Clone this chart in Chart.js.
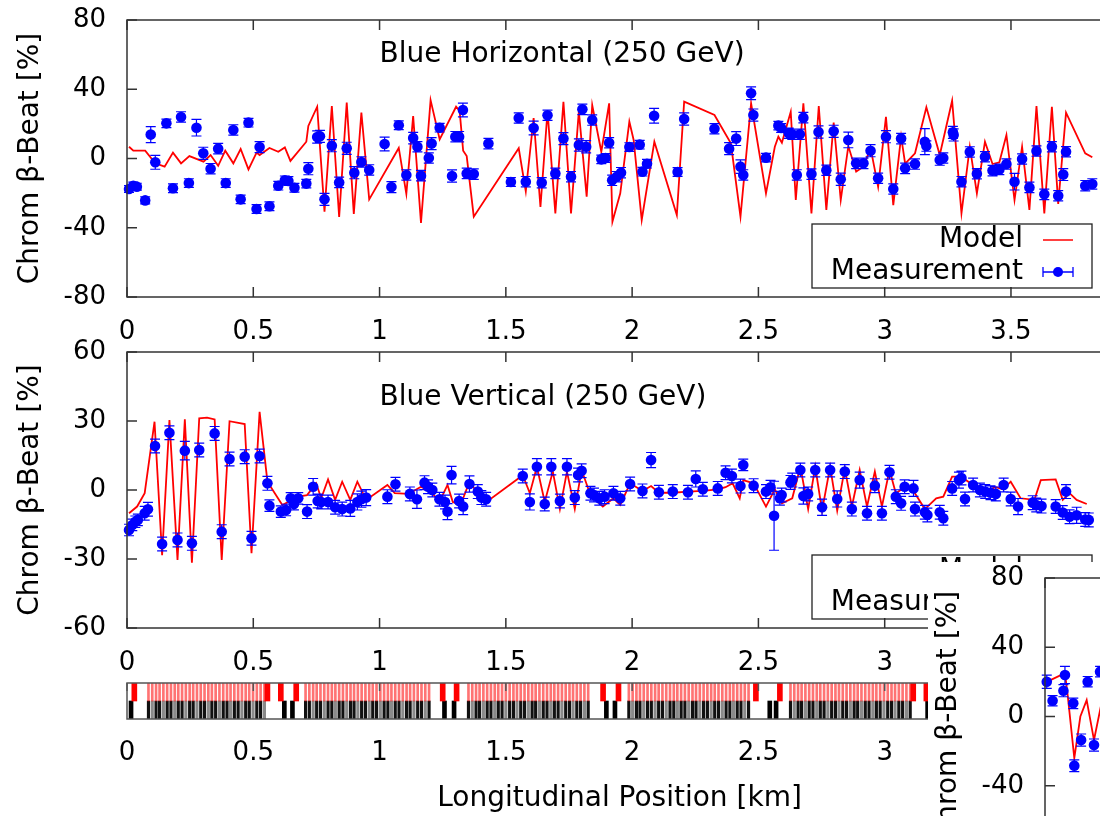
<!DOCTYPE html>
<html>
<head>
<meta charset="utf-8">
<script src="https://cdn.jsdelivr.net/npm/chart.js@4/dist/chart.umd.min.js"></script>
<style>
  html, body { margin: 0; padding: 0; background: #fff; width: 1100px; height: 816px; overflow: hidden; }
  canvas { position: absolute; display: block; }
  #inset { position: absolute; left: 928px; top: 562px; width: 172px; height: 254px; overflow: hidden; background: #fff; }
</style>
</head>
<body>
<canvas id="hChart" width="1120" height="360" style="left:0;top:0"></canvas>
<canvas id="vChart" width="1120" height="360" style="left:0;top:332px"></canvas>
<canvas id="lattice" width="1120" height="146" style="left:0;top:670px"></canvas>
<div id="inset"><canvas id="yChart" width="1120" height="360" style="left:-10px;top:-4px"></canvas></div>

<script>
// ---- axes ----
const xTickValues = [0, 0.5, 1, 1.5, 2, 2.5, 3, 3.5];
const xTickLabels = ['0', '0.5', '1', '1.5', '2', '2.5', '3', '3.5'];
const hYTicks = [-80, -40, 0, 40, 80];
const vYTicks = [-60, -30, 0, 30, 60];

// ---- Blue horizontal: measured chromatic beta-beat (s [km], value [%], error [%]) ----
const hMeasS = [
  0.008,0.025,0.039,0.072,0.094,0.112,0.156,0.182,0.214,0.245,
  0.275,0.302,0.331,0.361,0.391,0.421,0.45,0.481,0.513,0.525,
  0.564,0.599,0.625,0.639,0.663,0.71,0.718,0.753,0.764,0.782,
  0.811,0.84,0.87,0.9,0.928,0.959,1.02,1.047,1.076,1.106,
  1.133,1.15,1.164,1.195,1.206,1.238,1.287,1.3,1.315,1.33,
  1.345,1.373,1.431,1.52,1.551,1.579,1.61,1.642,1.665,
  1.696,1.728,1.758,1.789,1.803,1.818,1.842,1.878,1.895,1.909,
  1.921,1.939,1.956,1.989,2.03,2.041,2.059,2.087,2.18,2.206,
  2.326,2.384,2.412,2.429,2.44,2.471,2.48,2.53,2.579,2.59,
  2.62,2.634,2.652,2.664,2.678,2.71,2.738,2.769,2.798,2.826,
  2.856,2.887,2.916,2.944,2.974,3.005,3.034,3.065,3.081,3.12,
  3.159,3.165,3.218,3.232,3.27,3.273,3.304,3.337,3.365,3.397,
  3.427,3.454,3.482,3.514,3.544,3.573,3.601,3.632,3.662,3.687,
  3.707,3.718,3.794,3.822
];
const hMeasBeat = [
  -17.6,-15.7,-16.3,-24.2,13.8,-2.2,20.3,-17.2,24,-14.2,
  17.8,3,-5.9,5.7,-14.2,16.5,-23.6,20.7,-29.2,6.6,
  -27.6,-15.7,-12.6,-13,-16.9,-14.5,-5.9,12.4,12.8,-23.6,
  7.4,-13.8,5.9,-8.2,-2,-6.6,8.4,-16.5,19.2,-9.5,
  11.8,6.8,-9.9,0.3,8.6,17.8,-10.1,12.6,12.6,28,
  -8.6,-9,8.6,-13.6,23.4,-13.4,17.6,-14,25,
  -8.6,11.5,-10.5,7.8,28.4,6.8,22.2,-0.5,0.3,9.1,
  -12.6,-10.5,-8.2,6.6,8,-7.6,-3,24.7,-7.8,22.8,
  17.2,5.7,11.5,-4.7,-9.5,37.7,25.1,0.5,19,17.6,
  14.6,14,-9.5,14,23.6,-9,15.3,-6.8,15.7,-12,
  10.7,-2.8,-2.8,4.5,-11.4,12.6,-17.6,11.5,-5.7,-3.2,
  9.7,7.2,-0.9,0.3,15.1,13.6,-13.4,3.8,-8.8,1,
  -7,-6.3,-3.2,-13.4,-0.3,-16.7,4.3,-20.7,6.8,-21.5,
  -9.3,3.9,-15.7,-14.7
];
const hMeasErr = [
  2,2,2,2,4.6,4,2.5,2.5,3,2.5,
  4.8,3.5,3,3,2.5,3,2.5,2.5,2.5,3.2,
  2.5,2.5,2.5,2.5,2.5,2.5,3.5,3.5,3.5,3.5,
  3.5,3,3.5,3.5,3,3,4,3.2,2.5,3,
  3.3,3,3,3,3.5,2.5,3.5,3,3,4,
  3,3,3,2.5,3,3,4,3,3,
  3,3.5,3,3.5,3,3.5,3,2.5,2.5,3,
  3,3,3,2.5,2.5,2.5,2.5,4.3,2.5,3.5,
  3,3.5,4,3.9,3,3.7,3.5,2.5,2.5,2.5,
  3,3,3,3,3,3,3.5,3,3.5,3.5,
  4.5,3,3,3.5,3,3.5,3,3,3,3,
  7.5,3,3,3,3.5,3.5,3,3,3,3,
  3,3,3,4.8,3,3,3,3,3,3,
  3.4,3,3,3
];
// ---- Blue horizontal: model ----
const hModelS = [
  0.008,0.025,0.072,0.112,0.149,0.182,0.214,0.247,0.303,0.331,
  0.361,0.389,0.421,0.45,0.481,0.513,0.525,0.564,0.599,0.625,
  0.647,0.71,0.718,0.753,0.782,0.811,0.84,0.87,0.898,0.928,
  0.959,1.076,1.106,1.133,1.164,1.202,1.238,1.303,1.317,1.331,
  1.345,1.373,1.551,1.579,1.61,1.637,1.665,1.696,1.728,1.758,
  1.789,1.82,1.842,1.878,1.909,1.922,1.953,1.989,2.006,2.038,
  2.088,2.177,2.206,2.326,2.391,2.429,2.471,2.53,2.565,2.579,
  2.593,2.628,2.648,2.678,2.71,2.739,2.769,2.798,2.826,2.856,
  2.887,2.916,2.944,2.974,3.005,3.034,3.065,3.081,3.12,3.165,
  3.218,3.267,3.304,3.337,3.365,3.397,3.427,3.454,3.482,3.514,
  3.544,3.573,3.601,3.632,3.662,3.687,3.718,3.794,3.822
];
const hModelBeat = [
  6.8,4.5,4.5,-2.8,-4.7,3.4,-2.8,1.4,-1.8,2,
  -4.2,4.5,-2.8,5.5,-6.3,3.4,2,6.1,3.9,6.4,
  -1.4,9.7,18.8,29.9,-30.7,30.3,-33.8,32.3,-32,26.5,
  -23.6,6.1,-20.4,24.5,-37.2,33.7,11,29.9,27.5,4.5,
  1.4,-33.6,5.9,-19,23.4,-28,27.2,-31.7,32.8,-31.7,
  27.2,-22,30.9,3.9,31.9,-36.5,-20.1,21.3,10.7,-35.5,
  9.7,-32.6,32.8,25.1,8.8,-33.6,31.9,-20.1,6.8,12.6,
  9.1,27,-24,31.9,-31.7,30.3,-29.7,20.7,-24,7.2,
  -7.6,-4.7,6.1,-16.3,24.1,-26.9,12.6,-3,3,29.6,
  2,33.4,-31.7,6.8,-20.1,9.7,-3.2,-2.2,13.6,-24,
  6.8,-29.7,30.3,-31.7,29.9,-26.2,26.5,3,0.7
];

// ---- Blue vertical: measured ----
const vMeasS = [
  0.008,0.021,0.033,0.043,0.07,0.083,0.111,0.139,0.168,0.2,
  0.229,0.257,0.286,0.347,0.375,0.406,0.466,0.493,0.525,0.556,
  0.564,0.609,0.63,0.648,0.661,0.678,0.713,0.737,0.755,0.769,
  0.796,0.824,0.852,0.884,0.912,0.928,0.947,1.031,1.063,1.12,
  1.148,1.178,1.192,1.209,1.237,1.259,1.269,1.285,1.315,1.331,
  1.356,1.389,1.403,1.422,1.567,1.595,1.623,1.654,
  1.68,1.714,1.742,1.773,1.786,1.8,1.835,1.849,1.87,1.891,
  1.926,1.953,1.992,2.041,2.075,2.106,2.161,2.221,2.252,2.28,
  2.339,2.37,2.395,2.429,2.44,2.481,2.53,2.548,2.562,2.585,
  2.592,2.627,2.634,2.666,2.678,2.697,2.725,2.752,2.784,2.812,
  2.842,2.87,2.901,2.93,2.961,2.989,3.019,3.044,3.065,3.079,
  3.114,3.12,3.159,3.169,3.218,3.232,3.267,3.294,3.304,3.318,
  3.35,3.377,3.398,3.419,3.44,3.471,3.499,3.528,3.586,3.6,
  3.621,3.677,3.705,3.718,3.732,3.76,3.794,3.808
];
const vMeasBeat = [
  -17.4,-15.2,-13.8,-13,-10.1,-8.4,19.1,-23.5,24.9,-21.7,
  17.1,-23.2,17.4,24.6,-18.1,13.5,14.5,-21,14.8,2.9,
  -6.8,-9.4,-8.7,-3.6,-6.1,-3.6,-9.4,1.4,-4.8,-5.2,
  -5.2,-7.5,-8.3,-8,-5.2,-4,-3.3,-2.9,2.5,-1.7,
  -4,3.2,1.4,0,-4,-5.2,-9.4,6.5,-4.8,-7.2,
  2.6,-0.7,-3.3,-4,6.1,-5.2,10.1,-6.1,
  10.1,-4.8,10.1,-3.3,6.5,8.4,-1.4,-2.2,-3.6,-2.9,
  -1.4,-3.6,2.6,-0.4,13,-1,-0.7,-1,4.8,0.3,
  0.7,7.5,6.1,1.7,10.9,1.9,-0.7,1.2,-11.2,-3.6,
  -2.2,3.3,4.3,8.7,-2.6,-1.7,8.7,-7.5,8.7,-3.9,
  8,-8.3,4.3,-10.1,1.9,-10.1,7.7,-2.9,-5.8,1.4,
  0.7,-8.3,-9.7,-10.9,-9.7,-12.3,0.7,4.3,5.2,-3.9,
  2.2,0,-0.7,-1.2,-1.7,2.2,-3.9,-7.2,-5.5,-6.5,
  -7,-7.2,-9.8,-0.7,-11.6,-11,-12.8,-13
];
const vMeasErr = [
  2.5,2.5,2.5,2.5,3,3,3,3,3,3,
  4,3,3,3,3,3,3,3,3,3,
  2.5,2.5,2.5,2.5,2.5,2.5,3,3.6,3,3,
  3,3,3,3.5,3.5,3.5,3.5,3,3,3,
  4,3,3,3,3,3,3.5,3.8,3,3.5,
  3.5,3,3,3,3,3.5,3.5,3,
  3.5,3,3.5,3,3,3,3,3,3,3,
  3,3,3,3,3.3,3,3,3,3.5,3,
  3,3,3,3,2.5,3,3,3,15,3,
  3,3,3,3,3.5,3,3,3.5,3,3.5,
  3,3,3.5,3,3,3,3,3,3,3,
  3.5,3,3,3,3,3,3,3.5,3,3,
  3,3,3,3,3,3,3,3.5,3,3,
  3,3,3,3,3,3.5,3,3
];
// ---- Blue vertical: model ----
const vModelS = [
  0.008,0.04,0.07,0.109,0.139,0.168,0.2,0.229,0.257,0.286,
  0.317,0.347,0.375,0.406,0.466,0.493,0.525,0.556,0.615,0.678,
  0.713,0.749,0.769,0.796,0.824,0.852,0.884,0.912,0.947,1.031,
  1.06,1.115,1.164,1.209,1.237,1.269,1.29,1.321,1.356,1.389,
  1.434,1.567,1.595,1.623,1.654,1.686,1.714,1.742,1.773,1.8,
  1.835,1.884,1.926,1.953,1.992,2.041,2.075,2.106,2.161,2.221,
  2.28,2.339,2.37,2.398,2.426,2.44,2.481,2.53,2.565,2.593,
  2.634,2.666,2.697,2.725,2.752,2.784,2.812,2.842,2.87,2.901,
  2.93,2.961,2.989,3.019,3.044,3.079,3.114,3.159,3.204,3.232,
  3.267,3.302,3.35,3.398,3.44,3.468,3.499,3.538,3.593,3.618,
  3.677,3.705,3.732,3.76,3.8
];
const vModelBeat = [
  -10.1,-7.2,-1.4,29.7,-28.3,30.4,-30.4,30.7,-31.6,31.2,
  31.5,30.7,-30.4,29.9,28.7,-27.5,34,3.6,-6.5,-2.9,
  -2.2,2.9,-3.6,4.6,-4.3,3.6,-4.3,3.6,-4.3,2.2,
  -1.4,-1.7,1.4,-1.4,-5.2,2.2,-5.2,-6.5,3.6,-1.4,
  -4.3,6.4,-1.4,10.1,-5.2,8,-8.3,8,-8.3,8.7,
  -2.2,-7.2,-3.6,-6.5,2.9,-0.4,1.7,-1.2,-1.2,-0.7,
  -0.4,0.3,1.2,2.9,-3.6,4.3,2.9,-7.2,0.3,-5.8,
  -3.6,10.1,-8.3,10.1,-9,10.1,-9,9.4,-7.2,8.7,
  -7.2,8,-7.2,8.7,-1.4,1.2,-0.4,-8.3,-3.6,-2.9,
  5.8,5.8,2.2,-0.4,1.2,0.3,3.6,-3.6,-4.3,4.3,
  4.6,-4.3,-1.4,-4.3,-6.1
];

// ---- Third panel (start of ring only) ----
const yMeasS    = [0.007, 0.03, 0.073, 0.079, 0.112, 0.116, 0.143, 0.169, 0.194, 0.218];
const yMeasBeat = [20.1, 9.1, 14.9, 24, 7.6, -28.4, -13.6, 20.1, -16.5, 25.9];
const yMeasErr  = [3.8, 3, 3.5, 5, 3, 3.4, 3.5, 3, 3.5, 3];
const yModelS    = [0.007, 0.079, 0.09, 0.116, 0.14, 0.165, 0.194, 0.22, 0.245];
const yModelBeat = [20, 25, 12, -24, 0, 9.5, -13.6, 5, -18];

// ---- Lattice: arc cell magnets and insertion magnets (s [km]) ----
const arcMagnets = [
  0.085,0.100,0.115,0.129,0.144,0.159,0.174,0.189,0.203,0.218,0.233,0.248,0.262,0.277,0.292,0.307,
  0.322,0.336,0.351,0.366,0.381,0.396,0.410,0.425,0.440,0.455,0.470,0.484,0.499,0.514,0.529,0.544,
  0.707,0.722,0.737,0.751,0.766,0.781,0.796,0.811,0.825,0.840,0.855,0.870,0.885,0.899,0.914,0.929,
  0.944,0.959,0.973,0.988,1.003,1.018,1.033,1.047,1.062,1.077,1.092,1.107,1.121,1.136,1.151,1.166,
  1.181,1.196,
  1.352,1.367,1.382,1.396,1.411,1.426,1.441,1.456,1.470,1.485,1.500,1.515,1.530,1.544,1.559,1.574,
  1.589,1.604,1.618,1.633,1.648,1.663,1.678,1.692,1.707,1.722,1.737,1.752,1.766,1.781,1.796,1.811,
  1.826,
  1.987,2.002,2.017,2.031,2.046,2.061,2.076,2.091,2.105,2.120,2.135,2.150,2.165,2.179,2.194,2.209,
  2.224,2.239,2.253,2.268,2.283,2.298,2.313,2.327,2.342,2.357,2.372,2.387,2.401,2.416,2.431,2.446,
  2.461,
  2.627,2.642,2.657,2.671,2.686,2.701,2.716,2.731,2.745,2.760,2.775,2.790,2.805,2.819,2.834,2.849,
  2.864,2.879,2.893,2.908,2.923,2.938,2.953,2.967,2.982,2.997,3.012,3.027,3.041,3.056,3.071,3.086,
  3.101
];
const dipoleBlocks = [0.029, 0.556, 0.609, 0.670, 1.250, 1.305, 1.885, 1.946, 2.490, 2.585, 3.113, 3.165];
const quadBlocks   = [0.016, 0.623, 0.655, 1.257, 1.295, 1.898, 1.932, 2.545, 2.570, 3.170];

const BLUE = '#0000ff', RED = '#ff0000';
const FONT = "'DejaVu Sans', sans-serif";
Chart.defaults.font.family = FONT;
Chart.defaults.color = '#000';

const pairs = (xs, ys) => xs.map((x, i) => ({ x: x, y: ys[i] }));

// gnuplot-like frame: border, inward mirror ticks, error bars, in-plot label and key
const gpFrame = {
  id: 'gpFrame',
  beforeDatasetDraw(chart, args) {
    const ds = chart.data.datasets[args.index];
    if (!ds.errors) return;
    const { ctx } = chart, xs = chart.scales.x, ys = chart.scales.y;
    ctx.save();
    ctx.strokeStyle = BLUE;
    ctx.lineWidth = 1.2;
    ctx.beginPath();
    ds.data.forEach((p, i) => {
      const e = ds.errors[i];
      const px = xs.getPixelForValue(p.x);
      const y1 = ys.getPixelForValue(p.y + e), y2 = ys.getPixelForValue(p.y - e);
      ctx.moveTo(px, y1); ctx.lineTo(px, y2);
      ctx.moveTo(px - 5, y1); ctx.lineTo(px + 5, y1);
      ctx.moveTo(px - 5, y2); ctx.lineTo(px + 5, y2);
    });
    ctx.stroke();
    ctx.restore();
  },
  afterDraw(chart, args, o) {
    const { ctx, chartArea: a } = chart;
    const xs = chart.scales.x, ys = chart.scales.y;
    ctx.save();
    ctx.strokeStyle = o.frameColor || '#333';
    ctx.lineWidth = 1.5;
    ctx.strokeRect(a.left, a.top, a.right - a.left, a.bottom - a.top);
    ctx.beginPath();
    const t = o.tick || 10;
    xs.ticks.forEach(tk => {
      const px = xs.getPixelForValue(tk.value);
      ctx.moveTo(px, a.top); ctx.lineTo(px, a.top + t);
      if (o.bottomTicks !== false) { ctx.moveTo(px, a.bottom); ctx.lineTo(px, a.bottom - t); }
    });
    if (o.yTicks !== false) {
      ys.ticks.forEach(tk => {
        const py = ys.getPixelForValue(tk.value);
        ctx.moveTo(a.left, py); ctx.lineTo(a.left + t, py);
        ctx.moveTo(a.right, py); ctx.lineTo(a.right - t, py);
      });
    }
    ctx.stroke();

    if (o.label) {
      ctx.font = '28px ' + FONT;
      ctx.fillStyle = '#000';
      ctx.textAlign = 'left';
      ctx.textBaseline = 'middle';
      ctx.fillText(o.label.text, xs.getPixelForValue(o.label.x), ys.getPixelForValue(o.label.y));
    }

    if (o.key) {
      const L = a.left, B = a.bottom - 9;
      ctx.strokeStyle = '#222';
      ctx.lineWidth = 1.3;
      ctx.strokeRect(L + 685, B - 64, 280, 64);
      const model = chart.data.datasets[1], meas = chart.data.datasets[0];
      const y1 = B - 48, y2 = B - 16;
      ctx.font = '28px ' + FONT;
      ctx.fillStyle = '#000';
      ctx.textAlign = 'right';
      ctx.textBaseline = 'middle';
      ctx.fillText(model.label, L + 896, y1);
      ctx.fillText(meas.label, L + 896, y2);
      ctx.strokeStyle = RED; ctx.lineWidth = 1.5;
      ctx.beginPath(); ctx.moveTo(L + 916, y1); ctx.lineTo(L + 946, y1); ctx.stroke();
      ctx.strokeStyle = BLUE; ctx.lineWidth = 1.3;
      ctx.beginPath();
      ctx.moveTo(L + 916, y2); ctx.lineTo(L + 946, y2);
      ctx.moveTo(L + 916, y2 - 5); ctx.lineTo(L + 916, y2 + 5);
      ctx.moveTo(L + 946, y2 - 5); ctx.lineTo(L + 946, y2 + 5);
      ctx.stroke();
      ctx.fillStyle = BLUE;
      ctx.beginPath(); ctx.arc(L + 931, y2, 5, 0, Math.PI * 2); ctx.fill();
    }
    ctx.restore();
  }
};

// fixed-size axis boxes so the plot frame sits at the same place in every panel
const fixBox = (w, h) => s => {
  if (w !== null) s.width = w;
  if (h !== null) s.height = h;
  s.paddingTop = 0; s.paddingBottom = 0; s.paddingLeft = 0; s.paddingRight = 0;
};

function beatChart(id, cfg) {
  const H = 360;
  return new Chart(document.getElementById(id), {
    type: 'scatter',
    data: {
      datasets: [
        {
          label: 'Measurement',
          data: pairs(cfg.measS, cfg.measBeat),
          errors: cfg.measErr,
          showLine: false,
          pointRadius: 5.3,
          pointBackgroundColor: BLUE,
          pointBorderColor: BLUE,
          pointBorderWidth: 0,
          backgroundColor: BLUE,
          borderColor: BLUE,
          clip: false
        },
        {
          label: 'Model',
          data: pairs(cfg.modelS, cfg.modelBeat),
          showLine: true,
          borderColor: RED,
          backgroundColor: RED,
          borderWidth: 1.8,
          pointRadius: 0,
          tension: 0,
          clip: 4
        }
      ]
    },
    options: {
      responsive: false,
      animation: false,
      events: [],
      layout: { padding: { top: 20, right: 8, left: 0, bottom: 0 } },
      plugins: {
        legend: { display: false },
        tooltip: { enabled: false },
        gpFrame: { label: cfg.label, key: cfg.key }
      },
      scales: {
        x: {
          type: 'linear', min: 0, max: 3.9,
          afterBuildTicks: s => { s.ticks = xTickValues.map(v => ({ value: v })); },
          afterFit: fixBox(null, H - cfg.bottom),
          ticks: { padding: 20, autoSkip: false, maxRotation: 0, font: { size: 26 },
                   callback: (v, i) => xTickLabels[i] },
          grid: { display: false, drawTicks: false },
          border: { display: false }
        },
        y: {
          type: 'linear', min: cfg.yTicks[0], max: cfg.yTicks[cfg.yTicks.length - 1],
          afterBuildTicks: s => { s.ticks = cfg.yTicks.map(v => ({ value: v })); },
          afterFit: fixBox(127, null),
          ticks: { padding: 21, font: { size: 26 }, callback: v => String(v) },
          title: { display: true, text: 'Chrom β-Beat [%]', font: { size: 28 }, padding: { top: 14, bottom: 0 } },
          grid: { display: false, drawTicks: false },
          border: { display: false }
        }
      }
    },
    plugins: [gpFrame]
  });
}

beatChart('hChart', {
  measS: hMeasS, measBeat: hMeasBeat, measErr: hMeasErr,
  modelS: hModelS, modelBeat: hModelBeat,
  yTicks: hYTicks, bottom: 297,
  label: { text: 'Blue Horizontal (250 GeV)', x: 1, y: 60 }, key: true
});

beatChart('vChart', {
  measS: vMeasS, measBeat: vMeasBeat, measErr: vMeasErr,
  modelS: vModelS, modelBeat: vModelBeat,
  yTicks: vYTicks, bottom: 296,
  label: { text: 'Blue Vertical (250 GeV)', x: 1, y: 40 }, key: true
});

beatChart('yChart', {
  measS: yMeasS, measBeat: yMeasBeat, measErr: yMeasErr,
  modelS: yModelS, modelBeat: yModelBeat,
  yTicks: hYTicks, bottom: 297,
  label: null, key: false
});

// ---- lattice strip: dipoles (upper half, red), quadrupoles (lower half, black/grey) ----
new Chart(document.getElementById('lattice'), {
  type: 'bar',
  data: {
    datasets: [
      { data: arcMagnets.map(s => ({ x: s, y: [1, 2] })), backgroundColor: 'rgba(255,0,0,0.55)',
        barThickness: 2, grouped: false },
      { data: dipoleBlocks.map(s => ({ x: s, y: [1, 2] })), backgroundColor: RED,
        barThickness: 5, grouped: false },
      { data: arcMagnets.map(s => ({ x: s, y: [0, 1] })),
        backgroundColor: c => (c.dataIndex % 3 === 1 ? '#8a8a8a' : '#111'),
        barThickness: 2.5, grouped: false },
      { data: quadBlocks.map(s => ({ x: s, y: [0, 1] })), backgroundColor: '#000',
        barThickness: 4, grouped: false }
    ]
  },
  options: {
    responsive: false,
    animation: false,
    events: [],
    layout: { padding: { top: 13, right: 8, left: 127, bottom: 0 } },
    plugins: {
      legend: { display: false },
      tooltip: { enabled: false },
      gpFrame: { frameColor: '#555', tick: 8, bottomTicks: false, yTicks: false }
    },
    scales: {
      x: {
        type: 'linear', min: 0, max: 3.9, offset: false,
        afterBuildTicks: s => { s.ticks = xTickValues.map(v => ({ value: v })); },
        afterFit: fixBox(null, 97),
        ticks: { padding: 19, autoSkip: false, maxRotation: 0, font: { size: 26 },
                 callback: (v, i) => xTickLabels[i] },
        title: { display: true, text: 'Longitudinal Position [km]', font: { size: 28 }, padding: { top: 0, bottom: 0 } },
        grid: { display: false, drawTicks: false },
        border: { display: false }
      },
      y: { type: 'linear', min: 0, max: 2, display: false }
    }
  },
  plugins: [gpFrame]
});
</script>
</body>
</html>
